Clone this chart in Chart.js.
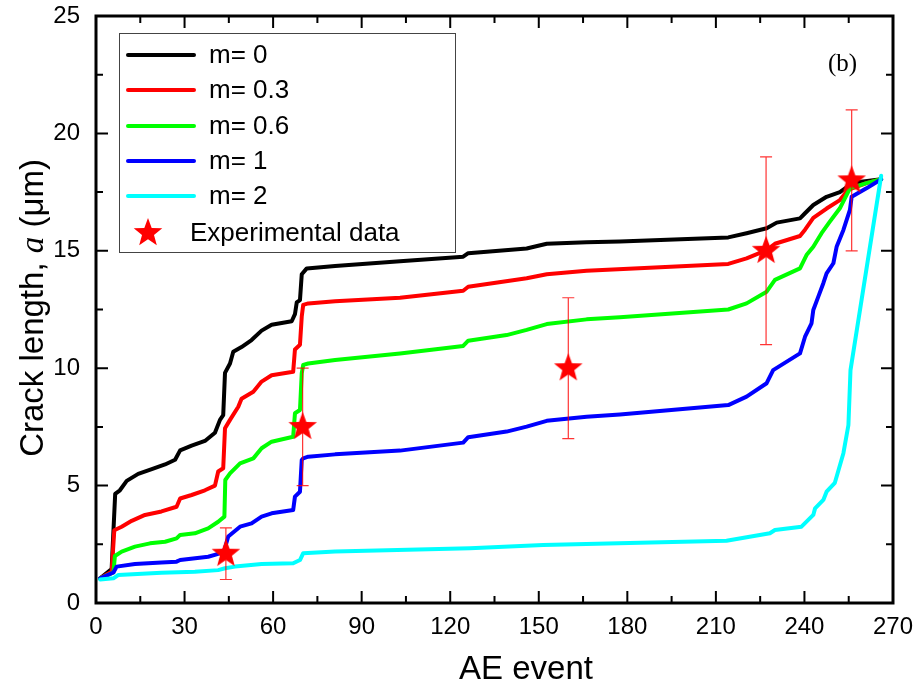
<!DOCTYPE html>
<html>
<head>
<meta charset="utf-8">
<script src="https://cdn.jsdelivr.net/npm/chart.js@4.4.1/dist/chart.umd.min.js"></script>
<style>
  html, body { margin: 0; padding: 0; background: #fff; }
  canvas { display: block; }
</style>
</head>
<body>
<canvas id="crackChart" width="919" height="688"></canvas>
<script>
// simulated crack growth vs. AE event count, one curve per m
var aeM0 = [1.4, 5.3, 6.5, 8.1, 10.4, 14.3, 18.9, 23.4, 26.8, 28.5, 32.4, 36.9, 40.3, 42, 43.1, 43.7, 45.4, 46.5, 49.3, 52.7, 56.1, 59.5, 66.3, 67.4, 68, 69.1, 69.7, 71.4, 81, 103, 124.4, 126.1, 145.9, 152.7, 166.2, 177.5, 214.2, 220.4, 227.2, 230.6, 238.5, 240.2, 243, 247.5, 252, 256.5, 266];
var crackM0 = [1.05, 1.45, 4.65, 4.8, 5.2, 5.5, 5.7, 5.9, 6.1, 6.5, 6.7, 6.9, 7.25, 7.8, 8.0, 9.8, 10.2, 10.7, 10.9, 11.2, 11.6, 11.85, 12.0, 12.3, 12.8, 12.9, 14.0, 14.25, 14.35, 14.55, 14.75, 14.9, 15.1, 15.3, 15.36, 15.4, 15.57, 15.75, 15.96, 16.2, 16.38, 16.6, 16.95, 17.3, 17.5, 17.9, 18.05];

var aeM03 = [1.4, 5.3, 6.2, 8.7, 12.1, 16.6, 22.2, 27.3, 28.5, 32.4, 36.9, 40.3, 41.4, 43.1, 43.7, 45.4, 48.2, 49.3, 53.3, 56.1, 59.5, 66.8, 67.4, 69.1, 69.7, 70.2, 71.9, 81, 103, 124.4, 126.1, 145.9, 152.7, 166.2, 214.2, 220.4, 227.2, 230, 238.5, 240.2, 243, 247.5, 252, 254.8, 261, 266];
var crackM03 = [1.05, 1.33, 3.1, 3.25, 3.5, 3.75, 3.9, 4.1, 4.45, 4.6, 4.8, 5.0, 5.6, 5.74, 7.44, 7.8, 8.36, 8.7, 9.0, 9.43, 9.7, 9.85, 10.8, 11.0, 12.2, 12.7, 12.76, 12.85, 13.0, 13.3, 13.47, 13.83, 14.0, 14.15, 14.44, 14.68, 15.03, 15.3, 15.63, 15.9, 16.4, 16.8, 17.16, 17.6, 17.88, 18.05];

var aeM06 = [1.4, 5.9, 6.4, 8.7, 13.2, 18.3, 23.4, 27.3, 28.5, 33.5, 38, 41.4, 43.5, 43.8, 45.4, 48.8, 53.3, 56.1, 59.5, 66.8, 67.4, 69.1, 69.7, 70.2, 71.9, 81, 103, 124.4, 126.1, 139.1, 145.9, 152.7, 166.2, 177.5, 214.2, 220.4, 227.2, 230, 238.5, 240.7, 243, 245.8, 248.6, 252, 255.4, 261, 266];
var crackM06 = [1.05, 1.3, 2.0, 2.19, 2.4, 2.54, 2.61, 2.75, 2.9, 2.97, 3.18, 3.46, 3.68, 5.24, 5.52, 5.95, 6.16, 6.59, 6.87, 7.08, 8.08, 8.22, 9.78, 10.14, 10.2, 10.35, 10.63, 10.95, 11.17, 11.41, 11.63, 11.88, 12.08, 12.17, 12.5, 12.76, 13.26, 13.76, 14.25, 14.82, 15.17, 15.75, 16.24, 16.81, 17.66, 17.88, 18.05];

var aeM1 = [1.4, 5.9, 7, 13.2, 22.2, 27.3, 28.5, 38, 41.4, 43.5, 44.8, 48.8, 52.7, 56.1, 59.5, 66.8, 67.4, 69.1, 69.7, 70.2, 71.9, 81, 103, 124.4, 126.1, 139.1, 145.9, 152.7, 166.2, 177.5, 214.2, 220.4, 227.2, 229.4, 238.5, 240.2, 242.4, 243, 244.7, 246.4, 247.5, 249.8, 250.9, 253.2, 255.4, 256, 261, 266];
var crackM1 = [1.05, 1.3, 1.55, 1.66, 1.72, 1.76, 1.83, 1.97, 2.09, 2.26, 2.83, 3.25, 3.39, 3.68, 3.82, 3.96, 4.53, 4.74, 6.09, 6.16, 6.23, 6.33, 6.49, 6.83, 7.06, 7.3, 7.51, 7.76, 7.93, 8.03, 8.43, 8.79, 9.36, 9.92, 10.63, 11.34, 11.91, 12.48, 13.05, 13.62, 14.04, 14.47, 15.17, 15.89, 16.74, 17.3, 17.66, 18.05];

var aeM2 = [1.4, 5.9, 7.5, 22.2, 33.5, 41.4, 43.7, 47.1, 56.1, 66.8, 69.1, 70.2, 81, 126.7, 151.5, 213.6, 228.3, 230, 239, 243, 243.6, 246.4, 247.5, 250.3, 253.2, 254.9, 255.6, 266];
var crackM2 = [1.0, 1.05, 1.19, 1.29, 1.33, 1.4, 1.48, 1.55, 1.66, 1.69, 1.83, 2.12, 2.19, 2.33, 2.47, 2.65, 2.97, 3.11, 3.25, 3.75, 4.03, 4.39, 4.74, 5.12, 6.38, 7.58, 9.92, 18.2];

// measured crack lengths with error ranges
var expAE = [44, 70, 160, 227, 256];
var expCrack = [2.1, 7.5, 10, 15, 18];
var expLow = [1.0, 5.0, 7.0, 11.0, 15.0];
var expHigh = [3.2, 10.0, 13.0, 19.0, 21.0];

var seriesLabels = ['m= 0', 'm= 0.3', 'm= 0.6', 'm= 1', 'm= 2'];
var seriesColors = ['#000000', '#ff0000', '#00ff00', '#0000ff', '#00ffff'];

var SANS = '"Liberation Sans", Arial, Helvetica, sans-serif';
var SERIF = '"Liberation Serif", "Times New Roman", serif';

function toPoints(xs, ys) {
    return xs.map(function (x, i) { return { x: x, y: ys[i] }; });
}

// filled five-point star used as the point marker
function makeStar(r, color) {
    var size = Math.ceil(r * 2) + 2;
    var c = document.createElement('canvas');
    c.width = size;
    c.height = size;
    var g = c.getContext('2d');
    g.fillStyle = color;
    g.beginPath();
    for (var i = 0; i < 10; i++) {
        var rad = i % 2 === 0 ? r : r * 0.42;
        var ang = -Math.PI / 2 + i * Math.PI / 5;
        var px = size / 2 + rad * Math.cos(ang);
        var py = size / 2 + rad * Math.sin(ang);
        if (i === 0) g.moveTo(px, py); else g.lineTo(px, py);
    }
    g.closePath();
    g.fill();
    return c;
}
var starImg = makeStar(15, '#ff0000');

var xs = [aeM0, aeM03, aeM06, aeM1, aeM2];
var ys = [crackM0, crackM03, crackM06, crackM1, crackM2];
var datasets = [];
for (var i = 0; i < 5; i++) {
    datasets.push({
        label: seriesLabels[i],
        data: toPoints(xs[i], ys[i]),
        borderColor: seriesColors[i],
        backgroundColor: seriesColors[i],
        borderWidth: 4,
        pointRadius: 0,
        tension: 0,
        fill: false,
        borderJoinStyle: 'round',
        borderCapStyle: 'round',
        order: 5 - i
    });
}
datasets.push({
    label: 'Experimental data',
    data: toPoints(expAE, expCrack),
    showLine: false,
    pointStyle: starImg,
    pointRadius: 15,
    borderColor: '#ff0000',
    backgroundColor: '#ff0000',
    order: 0
});
var EXP_INDEX = datasets.length - 1;

// error bars go under the stars but over the curves
var errorBars = {
    id: 'errorBars',
    beforeDatasetDraw: function (chart, args) {
        if (args.index !== EXP_INDEX) return;
        var ctx = chart.ctx, xS = chart.scales.x, yS = chart.scales.y;
        ctx.save();
        ctx.strokeStyle = 'rgba(255,0,0,0.8)';
        ctx.lineWidth = 1.2;
        for (var k = 0; k < expAE.length; k++) {
            var px = xS.getPixelForValue(expAE[k]);
            var top = yS.getPixelForValue(expHigh[k]);
            var bot = yS.getPixelForValue(expLow[k]);
            ctx.beginPath();
            ctx.moveTo(px, top); ctx.lineTo(px, bot);
            ctx.moveTo(px - 6, top); ctx.lineTo(px + 6, top);
            ctx.moveTo(px - 6, bot); ctx.lineTo(px + 6, bot);
            ctx.stroke();
        }
        ctx.restore();
    }
};

// box frame, inward ticks, legend, axis titles and panel tag
var decorations = {
    id: 'decorations',
    afterDraw: function (chart) {
        var ctx = chart.ctx, a = chart.chartArea;
        var xS = chart.scales.x, yS = chart.scales.y;
        ctx.save();
        ctx.strokeStyle = '#000';
        ctx.lineWidth = 2;
        xS.ticks.forEach(function (t) {
            var len = t.value % 30 === 0 ? 12 : 7;
            var p = xS.getPixelForValue(t.value);
            ctx.beginPath();
            ctx.moveTo(p, a.bottom); ctx.lineTo(p, a.bottom - len);
            ctx.moveTo(p, a.top); ctx.lineTo(p, a.top + len);
            ctx.stroke();
        });
        yS.ticks.forEach(function (t) {
            var len = t.value % 5 === 0 ? 12 : 7;
            var p = yS.getPixelForValue(t.value);
            ctx.beginPath();
            ctx.moveTo(a.left, p); ctx.lineTo(a.left + len, p);
            ctx.moveTo(a.right, p); ctx.lineTo(a.right - len, p);
            ctx.stroke();
        });
        ctx.lineWidth = 3;
        ctx.strokeRect(a.left, a.top, a.right - a.left, a.bottom - a.top);

        // legend
        ctx.fillStyle = '#fff';
        ctx.fillRect(119, 33, 336, 219);
        ctx.strokeStyle = '#444';
        ctx.lineWidth = 1;
        ctx.strokeRect(119.5, 33.5, 336, 219);
        ctx.font = '26px ' + SANS;
        ctx.textBaseline = 'middle';
        ctx.textAlign = 'left';
        var rowY = [55, 90, 126, 161, 196, 233];
        chart.data.datasets.forEach(function (ds, k) {
            var y = rowY[k];
            if (k === EXP_INDEX) {
                ctx.drawImage(starImg, 148 - starImg.width / 2, y - starImg.height / 2);
                ctx.fillStyle = '#000';
                ctx.fillText(ds.label, 190, y + 1);
                return;
            }
            ctx.strokeStyle = ds.borderColor;
            ctx.lineWidth = 4;
            ctx.lineCap = 'round';
            ctx.beginPath();
            ctx.moveTo(128, y); ctx.lineTo(194, y);
            ctx.stroke();
            ctx.fillStyle = '#000';
            ctx.fillText(ds.label, 209, y + 1);
        });

        // axis titles
        ctx.fillStyle = '#000';
        ctx.textBaseline = 'alphabetic';
        ctx.textAlign = 'center';
        ctx.font = '33px ' + SANS;
        ctx.fillText('AE event', 526, 679);

        var parts = [
            { t: 'Crack length, ', f: '33px ' + SANS },
            { t: 'a', f: 'italic 33px ' + SERIF },
            { t: ' (\u03bcm)', f: '33px ' + SANS }
        ];
        var total = 0;
        parts.forEach(function (p) { ctx.font = p.f; p.w = ctx.measureText(p.t).width; total += p.w; });
        ctx.save();
        ctx.translate(43, 308);
        ctx.rotate(-Math.PI / 2);
        ctx.textAlign = 'left';
        var cx = -total / 2;
        parts.forEach(function (p) { ctx.font = p.f; ctx.fillText(p.t, cx, 0); cx += p.w; });
        ctx.restore();

        ctx.font = '25px ' + SERIF;
        ctx.textAlign = 'left';
        ctx.fillText('(b)', 828, 71);
        ctx.restore();
    }
};

var chart = new Chart(document.getElementById('crackChart'), {
    type: 'line',
    data: { datasets: datasets },
    options: {
        responsive: false,
        animation: false,
        layout: { padding: { left: 0, top: 16, right: 26, bottom: 0 } },
        plugins: {
            legend: { display: false },
            tooltip: { enabled: false }
        },
        scales: {
            x: {
                type: 'linear',
                min: 0,
                max: 270,
                grid: { display: false, drawTicks: false },
                border: { display: false },
                ticks: {
                    stepSize: 15,
                    autoSkip: false,
                    maxRotation: 0,
                    padding: 10,
                    color: '#000',
                    font: { family: SANS, size: 24 },
                    callback: function (v) { return v % 30 === 0 ? v : ''; }
                },
                afterFit: function (s) {
                    s.height = 85;
                    s.paddingLeft = 0;
                    s.paddingRight = 0;
                }
            },
            y: {
                min: 0,
                max: 25,
                grid: { display: false, drawTicks: false },
                border: { display: false },
                ticks: {
                    stepSize: 2.5,
                    autoSkip: false,
                    padding: 16,
                    color: '#000',
                    font: { family: SANS, size: 24 },
                    callback: function (v) { return v % 5 === 0 ? v : ''; }
                },
                afterFit: function (s) {
                    s.width = 96;
                    s.paddingTop = 0;
                    s.paddingBottom = 0;
                }
            }
        }
    },
    plugins: [errorBars, decorations]
});
</script>
</body>
</html>
